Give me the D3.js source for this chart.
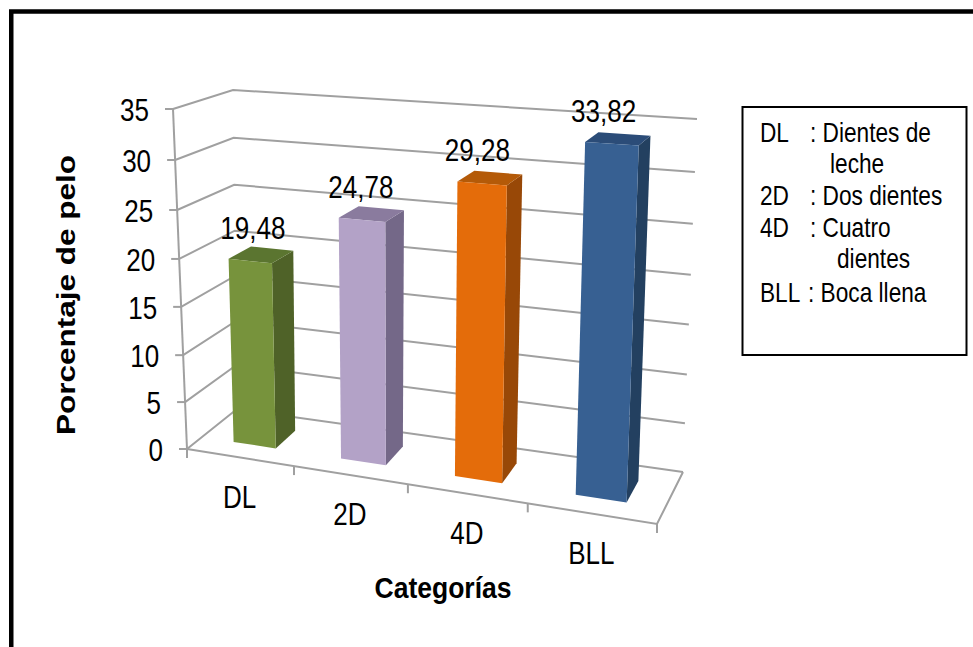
<!DOCTYPE html>
<html><head><meta charset="utf-8">
<script src="https://cdn.jsdelivr.net/npm/d3@7/dist/d3.min.js"></script>
<style>html,body{margin:0;padding:0;background:#fff}svg{display:block}text{font-family:"Liberation Sans",Arial,sans-serif;fill:#000}</style>
</head><body><div id="c"></div>
<script>
const categories = ["DL","2D","4D","BLL"];
const values = [19.48,24.78,29.28,33.82];
const valueLabels = ["19,48","24,78","29,28","33,82"];
const yTicks = [0,5,10,15,20,25,30,35];
const frontColors = ["#77933C","#B3A2C7","#E46C0A","#376092"];
const sideColors = ["#4F6228","#746888","#984807","#234060"];
const topColors = ["#5B7530","#8A7B9E","#B45A08","#2B4C78"];
const legendLines = [
  ["DL",": Dientes de"],
  ["","leche"],
  ["2D",": Dos dientes"],
  ["4D",": Cuatro"],
  ["","dientes"],
  ["BLL",": Boca llena"]
];

const W=973,H=647;
const svg=d3.select("#c").append("svg").attr("width",W).attr("height",H);
svg.append("rect").attr("width",W).attr("height",H).attr("fill","#fff");

// 3D box corners on screen
const box={
  fb:{l:[187,449],r:[657,524]}, ft:{l:[173,109],r:[672,142]},
  bb:{l:[237,409],r:[683,472]}, bt:{l:[233,90],r:[697,119]}
};
// piecewise scales stand in for the perspective foreshortening
const uScale=d3.scaleLinear().domain([0,1,2,3,4]).range([0,.2277,.47,.725,1]);
const dScale=d3.scaleLinear().domain([0,1]).range([0,1]);
const vScale=d3.scaleLinear().domain(yTicks).range([0,.138,.276,.418,.559,.703,.85,1]);
const lerp=(a,b,t)=>[a[0]+(b[0]-a[0])*t,a[1]+(b[1]-a[1])*t];
function project(c,d,v){
  const u=uScale(c),dd=dScale(d),vv=vScale(v);
  const f=lerp(lerp(box.fb.l,box.fb.r,u),lerp(box.ft.l,box.ft.r,u),vv);
  const b=lerp(lerp(box.bb.l,box.bb.r,u),lerp(box.bt.l,box.bt.r,u),vv);
  return lerp(f,b,dd);
}
const line=d3.line();
const poly=pts=>line(pts)+"Z";
const grid="#A0A0A0";
const g=svg.append("g");

// walls: gridlines
yTicks.forEach(t=>{
  g.append("path").attr("d",line([project(0,0,t),project(0,1,t),project(4,1,t)]))
   .attr("fill","none").attr("stroke",grid).attr("stroke-width",2);
  const p=project(0,0,t);
  g.append("path").attr("d",line([[p[0]-8,p[1]],p])).attr("stroke",grid).attr("stroke-width",2);
});
// left axis, floor
g.append("path").attr("d",line([project(0,0,35),project(0,0,0)])).attr("stroke",grid).attr("stroke-width",2).attr("fill","none");
g.append("path").attr("d",line([project(0,0,0),project(4,0,0),project(4,1,0)])).attr("stroke",grid).attr("stroke-width",2).attr("fill","none");
[0,1,2,3,4].forEach(i=>{
  const p=project(i,0,0);
  g.append("path").attr("d",line([p,[p[0],p[1]+9]])).attr("stroke",grid).attr("stroke-width",2);
});

// bars
const band=d3.scaleBand().domain(categories).range([0,4]).paddingInner(.6).paddingOuter(.3);
const d0=.30,d1=.72;
categories.forEach((c,i)=>{
  const a=band(c),b=a+band.bandwidth(),v=values[i];
  g.append("path").attr("d",poly([project(b,d0,0),project(b,d1,0),project(b,d1,v),project(b,d0,v)])).attr("fill",sideColors[i]);
  g.append("path").attr("d",poly([project(a,d0,v),project(b,d0,v),project(b,d1,v),project(a,d1,v)])).attr("fill",topColors[i]);
  g.append("path").attr("d",poly([project(a,d0,0),project(b,d0,0),project(b,d0,v),project(a,d0,v)])).attr("fill",frontColors[i]);
});

function label(txt,x,y,size,sx,anchor,bold){
  return svg.append("text").attr("transform",`translate(${x},${y}) scale(${sx},1)`)
    .attr("font-size",size).attr("text-anchor",anchor||"middle").attr("font-weight",bold?"bold":"normal").text(txt);
}
// value labels
categories.forEach((c,i)=>{
  const p=project(band(c)+band.bandwidth()/2,d0,values[i]);
  label(valueLabels[i],p[0]+2.5-3.6*i,p[1]-22,31,.84);
});
// y tick labels
yTicks.forEach(t=>{
  const p=project(0,0,t);
  label(String(t),p[0]-24,p[1]+12,31,.84,"end");
});
// category labels
categories.forEach((c,i)=>{
  const p=project(i+.5,0,0);
  label(c,p[0]-1,p[1]+50,31,.84);
});
// axis titles
svg.append("text").attr("transform","translate(75,295) rotate(-90)").attr("text-anchor","middle")
  .attr("font-size",25).attr("font-weight","bold").attr("textLength",280).attr("lengthAdjust","spacingAndGlyphs").text("Porcentaje de pelo");
svg.append("text").attr("transform","translate(443,598)").attr("text-anchor","middle")
  .attr("font-size",29).attr("font-weight","bold").attr("textLength",137).attr("lengthAdjust","spacingAndGlyphs").text("Categorías");

// legend
svg.append("rect").attr("x",742.5).attr("y",107).attr("width",224).attr("height",248).attr("fill","#fff").attr("stroke","#000").attr("stroke-width",2);
const lx=[810,830,810,810,837,808], ly=[142,173,205,237,268,302];
legendLines.forEach((l,i)=>{
  if(l[0]) label(l[0],760,ly[i],27,.84,"start");
  label(l[1],lx[i],ly[i],27,.84,"start");
});
// frame
svg.append("path").attr("d","M11.25,647V11.5H973").attr("fill","none").attr("stroke","#000").attr("stroke-width",4.5);
</script></body></html>
